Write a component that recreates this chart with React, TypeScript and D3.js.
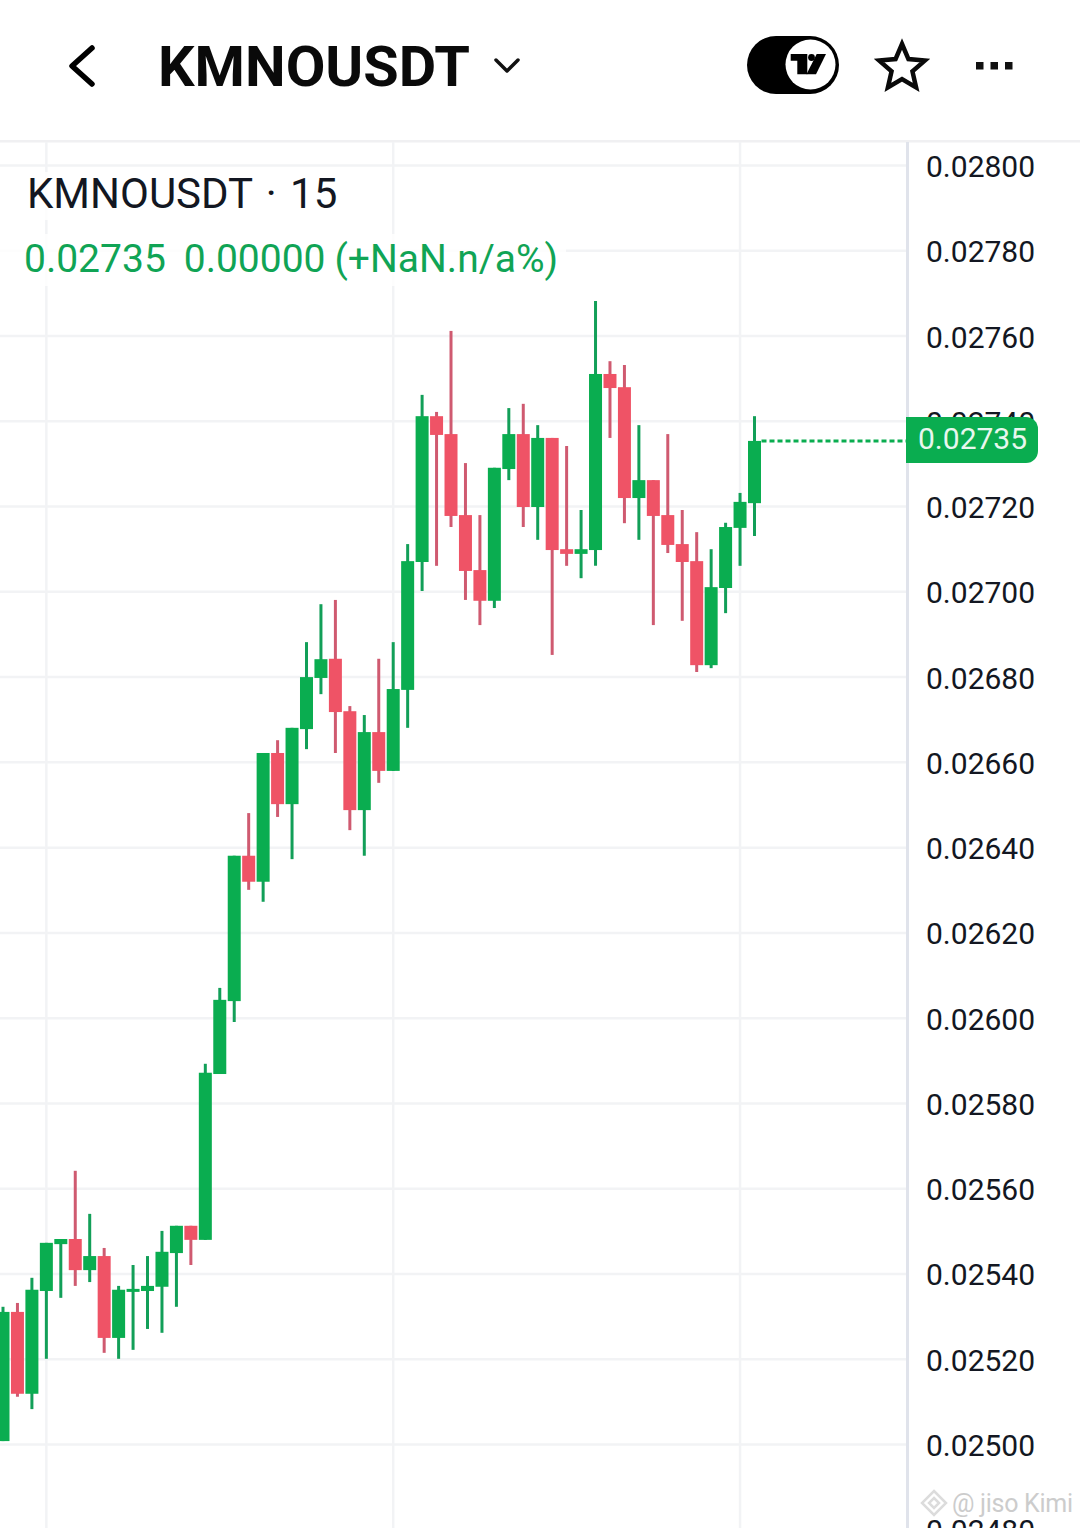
import React from "react";
import * as d3 from "d3";

const symbolTitle = "KMNOUSDT";
const legendTitle = "KMNOUSDT · 15";
const legendValue = "0.02735  0.00000 (+NaN.n/a%)";
const lastPriceLabel = "0.02735";
const watermark = "@ jiso Kimi";

const open = [0.025008,0.025311,0.025119,0.02536,0.02547,0.025482,0.025409,0.025442,0.02525,0.025358,0.02536,0.02537,0.025449,0.025513,0.02548,0.025869,0.02604,0.026381,0.02632,0.026622,0.026502,0.026678,0.026798,0.026843,0.02672,0.026488,0.026671,0.02658,0.02677,0.02707,0.027412,0.02737,0.02718,0.027051,0.026979,0.027288,0.02737,0.027199,0.027361,0.0271,0.027089,0.027098,0.027511,0.02748,0.02722,0.027262,0.02718,0.027112,0.027072,0.026828,0.027009,0.02715,0.027208];
const close = [0.025311,0.025119,0.025363,0.025473,0.025482,0.025409,0.025442,0.02525,0.025363,0.025365,0.025372,0.025452,0.025513,0.02548,0.025872,0.026043,0.026381,0.02632,0.026622,0.026502,0.026681,0.0268,0.026842,0.026718,0.026488,0.026671,0.02658,0.026772,0.027072,0.027412,0.027368,0.027178,0.027049,0.026979,0.027291,0.02737,0.027199,0.027361,0.027098,0.027089,0.0271,0.027511,0.027478,0.02722,0.027262,0.027178,0.02711,0.02707,0.026828,0.027011,0.027152,0.027211,0.027354];
const high = [0.025323,0.025332,0.025391,0.025473,0.025482,0.025642,0.025541,0.025461,0.025372,0.025421,0.025442,0.025501,0.025513,0.025513,0.025893,0.026071,0.026381,0.026481,0.026622,0.026652,0.026681,0.026882,0.026971,0.026981,0.026732,0.026711,0.026843,0.026882,0.027112,0.027462,0.027422,0.027612,0.027302,0.02718,0.027291,0.027431,0.027441,0.027391,0.027361,0.027342,0.027192,0.027682,0.027541,0.027532,0.027391,0.027262,0.02737,0.027192,0.02714,0.0271,0.027162,0.027232,0.027412];
const low = [0.025008,0.025112,0.025083,0.025201,0.025344,0.025372,0.025381,0.025215,0.025201,0.025222,0.025271,0.025262,0.025323,0.025421,0.02548,0.025869,0.025991,0.026301,0.026273,0.026472,0.026373,0.026631,0.02676,0.026622,0.026441,0.026381,0.026552,0.02658,0.026681,0.027002,0.027061,0.027152,0.026981,0.026922,0.026962,0.027262,0.027152,0.027122,0.026852,0.027061,0.027032,0.027061,0.027361,0.027161,0.027122,0.026922,0.027091,0.026932,0.026812,0.026821,0.02695,0.027061,0.027131];
const priceTicks = [0.028,0.0278,0.0276,0.0274,0.0272,0.027,0.0268,0.0266,0.0264,0.0262,0.026,0.0258,0.0256,0.0254,0.0252,0.025,0.0248];
const timeGridIndex = [3, 27, 51];

const UP = "#0aad50";
const UP_WICK = "#129f58";
const DOWN = "#ef5366";
const DOWN_WICK = "#cf5a70";
const GRID = "#f2f3f5";
const TEXT = "#131722";
const FONT = "Roboto, sans-serif";

const y = d3.scaleLinear().domain([0.025, 0.028]).range([1444.5, 165.5]);
const x = d3.scaleLinear().domain([0, open.length - 1]).range([3, 754.5]);
const fmt = d3.format(".5f");

const chartRight = 906;

export default function App() {
  const lastClose = close[close.length - 1];
  const lastY = y(lastClose);
  const star = d3.range(10).map((i) => {
    const r = i % 2 === 0 ? 24 : 11;
    const a = (i * Math.PI) / 5;
    return `${902 + r * Math.sin(a)},${68 - r * Math.cos(a)}`;
  }).join(" ");
  return (
    <svg width={1080} height={1528} viewBox="0 0 1080 1528"
      style={{ position: "absolute", left: 0, top: 0, display: "block", background: "#fff" }}>
      {/* header */}
      <polyline points="92,48 72,66 92,84" fill="none" stroke="#000" strokeWidth={5.5} strokeLinejoin="round" strokeLinecap="round" />
      <text x={158} y={86} fontFamily={FONT} fontWeight={700} fontSize={56} fill="#0a0a0a" textLength={312} lengthAdjust="spacingAndGlyphs">{symbolTitle}</text>
      <polyline points="496,60 507,71 518,60" fill="none" stroke="#111" strokeWidth={3.5} strokeLinecap="round" strokeLinejoin="round" />
      <rect x={747} y={36} width={92} height={58} rx={29} fill="#000" />
      <circle cx={810.5} cy={64.5} r={25} fill="#fff" />
      <path d="M790.7,54H807.3V74.3H797.3V60.7H790.7Z" fill="#000" />
      <circle cx={811.5} cy={57.5} r={3.4} fill="#000" />
      <path d="M816.7,54H826L816,74.3H806.5Z" fill="#000" />
      <polygon points={star} fill="#fff" stroke="#0a0a0a" strokeWidth={4.5} strokeLinejoin="miter" />
      {[976, 990.5, 1005].map((d) => <rect key={d} x={d} y={62} width={7.5} height={7.5} fill="#111" />)}
      <rect x={0} y={140} width={1080} height={2.5} fill="#f0f0f2" />

      {/* grid */}
      {priceTicks.map((t) => (
        <line key={t} x1={0} x2={chartRight} y1={y(t)} y2={y(t)} stroke={GRID} strokeWidth={2.5} />
      ))}
      {timeGridIndex.map((i) => (
        <line key={i} x1={x(i)} x2={x(i)} y1={142} y2={1528} stroke={GRID} strokeWidth={2.5} />
      ))}

      {/* legend backdrop */}
      <rect x={0} y={172} width={345} height={48} fill="#fff" opacity={0.8} />
      <rect x={0} y={234} width={566} height={52} fill="#fff" opacity={0.8} />

      {/* candles */}
      {open.map((o, i) => {
        const up = close[i] >= o;
        const top = y(Math.max(o, close[i]));
        const bot = y(Math.min(o, close[i]));
        return (
          <g key={i}>
            <line x1={x(i)} x2={x(i)} y1={y(high[i])} y2={y(low[i])} stroke={up ? UP_WICK : DOWN_WICK} strokeWidth={3} />
            <rect x={x(i) - 6.5} y={top} width={13} height={Math.max(bot - top, 3)} fill={up ? UP : DOWN} />
          </g>
        );
      })}

      {/* last price line */}
      <line x1={x(open.length - 1) + 7} x2={chartRight} y1={lastY} y2={lastY} stroke={UP} strokeWidth={3} strokeDasharray="5 3" />

      {/* legend */}
      <text x={27} y={208} fontFamily={FONT} fontSize={42} fill="#131722" xmlSpace="preserve" wordSpacing={3}>{legendTitle}</text>
      <text x={24} y={272} fontFamily={FONT} fontSize={39} fill="#10a455" xmlSpace="preserve" wordSpacing={-0.7}>{legendValue}</text>

      {/* price axis */}
      <rect x={906} y={142} width={3} height={1386} fill="#e0e3eb" />
      {priceTicks.map((t) => (
        <text key={t} x={926} y={y(t) + 11.5} fontFamily={FONT} fontSize={30} fill={TEXT}>{fmt(t)}</text>
      ))}
      <path d={`M906,417H1026a12,12 0 0 1 12,12V451a12,12 0 0 1 -12,12H906Z`} fill={UP} />
      <text x={918} y={449} fontFamily={FONT} fontSize={30} fill="#e8f7ee">{lastPriceLabel}</text>

      {/* watermark */}
      <g fill="none" stroke="#dcdcdc" strokeWidth={2.5}>
        <path d="M934,1491L946,1503L934,1515L922,1503Z" />
        <path d="M934,1498L939,1503L934,1508L929,1503Z" />
      </g>
      <text x={952} y={1512} fontFamily={FONT} fontSize={25} fill="#c4c4c4" opacity={0.85} textLength={121}>{watermark}</text>
    </svg>
  );
}
